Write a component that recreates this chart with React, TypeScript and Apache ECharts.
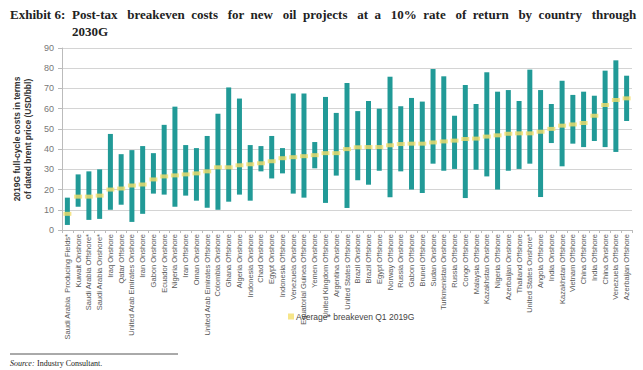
import React, { useEffect, useRef } from "react";
import * as echarts from "echarts";

const categories = [
  "Saudi Arabia  Producing Fields*", "Kuwait Onshore", "Saudi Arabia Offshore*", "Saudi Arabia Onshore*",
  "Iraq Onshore", "Qatar Offshore", "United Arab Emirates Onshore", "Iran Onshore", "Gabon Onshore",
  "Ecuador Onshore", "Nigeria Onshore", "Iran Offshore", "Oman Onshore", "United Arab Emirates Offshore",
  "Colombia Onshore", "Ghana Offshore", "Algeria Onshore", "Indonesia Onshore", "Chad Onshore",
  "Egypt Onshore", "Indonesia Offshore", "Venezuela Onshore", "Equatorial Guinea Offshore", "Yemen Onshore",
  "United Kingdom Offshore", "Argentina Onshore", "United States Offshore", "Brazil Onshore", "Brazil Offshore",
  "Egypt Offshore", "Norway Offshore", "Russia Onshore", "Gabon Offshore", "Brunei Offshore", "Sudan Onshore",
  "Turkmenistan Onshore", "Russia Offshore", "Congo Offshore", "Malaysia Offshore", "Kazakhstan Onshore",
  "Nigeria Offshore", "Azerbaijan Onshore", "Thailand Offshore", "United States Onshore*", "Angola Offshore",
  "India Onshore", "Kazakhstan Offshore", "Vietnam Offshore", "China Offshore", "India Offshore",
  "China Onshore", "Venezuela Offshore", "Azerbaijan Offshore",
];

const lowValues = [
  2.5, 11.5, 5, 5.5, 10, 12.5, 4, 8, 18, 17.5, 11.5, 17, 14.5, 11, 10, 14, 17.5, 14.5, 29, 25.5, 28, 18, 16, 30.5,
  13.4, 26.9, 10.9, 24.6, 22.4, 29.3, 16.2, 29, 20, 18.3, 32.8, 29.3, 30.2, 15.8, 29.8, 26.5, 20, 29.3, 30.2, 32.8,
  16.3, 43, 31.5, 42.7, 41, 44, 41, 38.6, 53.9,
];

const highValues = [
  16, 27.5, 29, 30, 47.5, 37.5, 39.5, 41.5, 38, 52, 61, 42, 40.5, 46.5, 57.5, 70.5, 65, 42, 41.5, 46.5, 40.5, 67.5,
  67.5, 43.5, 65.8, 57.9, 72.7, 58.8, 63.8, 60, 75.8, 61.2, 65.3, 63.5, 79.6, 76, 56.5, 71.7, 62.3, 78, 68.4, 69.2,
  63.8, 79.3, 69.2, 62.3, 73.8, 66.8, 68.4, 66.4, 78.8, 83.9, 76.3,
];

const avgValues = [
  8, 16.5, 16.5, 17, 20, 20.5, 22, 22.5, 25, 26.5, 27, 27.5, 28, 29, 31, 31, 32, 32.5, 33, 34, 35.5, 36, 36.5, 37,
  38, 38, 40, 40.9, 41, 41, 41.9, 42.5, 42.7, 42.7, 43.3, 43.8, 44.2, 45, 45.2, 46.2, 46.8, 47.6, 47.8, 47.8, 48.6,
  50, 51.6, 52.2, 52.9, 56.5, 61.8, 64.3, 65.1,
];

const yTicks = [0, 10, 20, 30, 40, 50, 60, 70, 80, 90];

export default function App() {
  const ref = useRef<HTMLDivElement>(null);
  useEffect(() => {
    if (!ref.current) return;
    const chart = echarts.init(ref.current, null, { renderer: "svg" });
    const rangeValues = highValues.map((h, i) => +(h - lowValues[i]).toFixed(2));
    chart.setOption({
      animation: false,
      backgroundColor: "#ffffff",
      textStyle: { fontFamily: "Liberation Sans" },
      graphic: [
        {
          type: "text",
          left: 10,
          top: 8,
          style: { text: "Exhibit 6:", font: "bold 13px 'Liberation Serif'", fill: "#222" },
        },
        {
          type: "text",
          left: 72,
          top: 8,
          style: {
            text: "Post-tax   breakeven  costs   for  new   oil  projects   at  a   10%  rate   of  return   by  country   through",
            font: "bold 13px 'Liberation Serif'",
            fill: "#222",
          },
        },
        {
          type: "text",
          left: 72,
          top: 25,
          style: { text: "2030G", font: "bold 13px 'Liberation Serif'", fill: "#222" },
        },
        {
          type: "line",
          shape: { x1: 10, y1: 354, x2: 178, y2: 354 },
          style: { stroke: "#555", lineWidth: 1 },
        },
        {
          type: "text",
          left: 10,
          top: 359,
          style: { text: "Source:", font: "italic 8px 'Liberation Serif'", fill: "#222" },
        },
        {
          type: "text",
          left: 37,
          top: 359,
          style: { text: "Industry Consultant.", font: "8px 'Liberation Serif'", fill: "#222" },
        },
      ],
      grid: { left: 62, right: 11, top: 48, bottom: 140, containLabel: false },
      legend: {
        data: ["Average* breakeven Q1 2019G"],
        left: 283,
        top: 307,
        icon: "rect",
        itemWidth: 6,
        itemHeight: 6,
        itemGap: 4,
        textStyle: { fontSize: 8.5, color: "#444", padding: [0, 0, 0, -3] },
      },
      xAxis: {
        type: "category",
        data: categories,
        boundaryGap: true,
        axisLine: { show: true, lineStyle: { color: "#bbb" } },
        axisTick: { show: true, lineStyle: { color: "#bbb" }, length: 3 },
        axisLabel: { rotate: 90, fontSize: 7.5, color: "#5a5a5a", margin: 4, interval: 0 },
      },
      yAxis: {
        type: "value",
        min: 0,
        max: 90,
        interval: 10,
        name: "2019G full-cycle costs in terms\nof dated brent price (USD/bbl)",
        nameLocation: "middle",
        nameRotate: 90,
        nameGap: 26,
        nameTextStyle: { fontSize: 8.5, fontWeight: "bold", color: "#333", lineHeight: 11 },
        axisLine: { show: true, lineStyle: { color: "#bbb" } },
        axisTick: { show: true, lineStyle: { color: "#bbb" }, length: 4 },
        axisLabel: {
          fontSize: 9,
          color: "#777",
          margin: 8,
          formatter: (v: number) => (yTicks.includes(v) ? String(v) : ""),
        },
        splitLine: { show: true, lineStyle: { color: "#d4d4d4" } },
      },
      series: [
        {
          name: "low",
          type: "bar",
          stack: "range",
          data: lowValues,
          barWidth: 5,
          itemStyle: { color: "transparent" },
          silent: true,
        },
        {
          name: "range",
          type: "bar",
          stack: "range",
          data: rangeValues,
          barWidth: 5,
          itemStyle: { color: "#219a97" },
        },
        {
          name: "Average* breakeven Q1 2019G",
          type: "scatter",
          data: avgValues,
          symbol: "rect",
          symbolSize: [8, 4],
          itemStyle: { color: "#f4df6c" },
          z: 5,
        },
      ],
    });
    return () => chart.dispose();
  }, []);
  return (
    <div
      ref={ref}
      style={{ position: "fixed", left: 0, top: 0, width: 643, height: 370, background: "#fff" }}
    />
  );
}
